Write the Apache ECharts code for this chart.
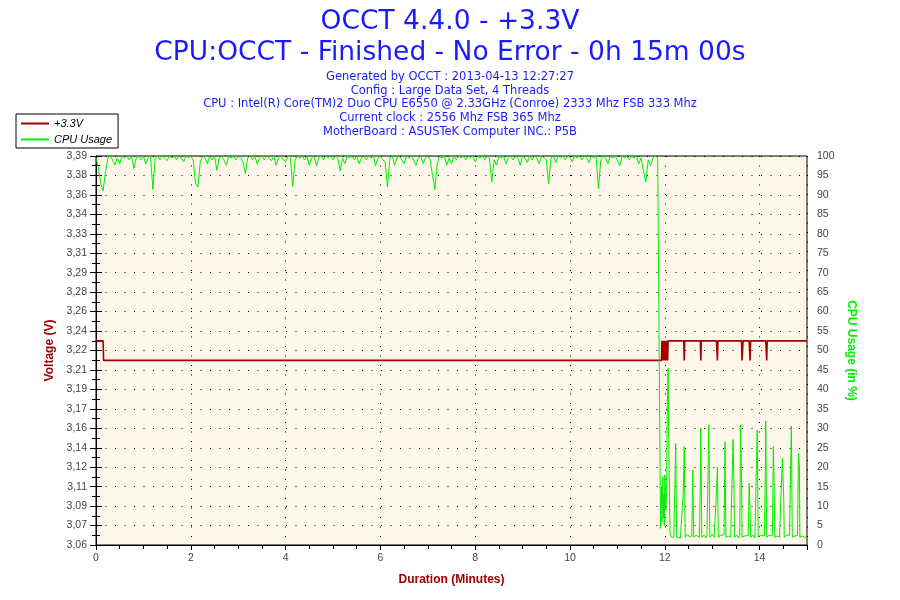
<!DOCTYPE html>
<html>
<head>
<meta charset="utf-8">
<script src="https://cdn.jsdelivr.net/npm/echarts@6/dist/echarts.min.js"></script>
<style>html,body{margin:0;padding:0;background:#fff}#c{width:900px;height:600px}</style>
</head>
<body>
<div id="c"></div>
<script>
// ---- Text ----
const titleLine1 = 'OCCT 4.4.0 - +3.3V';
const titleLine2 = 'CPU:OCCT - Finished - No Error - 0h 15m 00s';
const infoLines = [
  'Generated by OCCT : 2013-04-13 12:27:27',
  'Config : Large Data Set, 4 Threads',
  'CPU : Intel(R) Core(TM)2 Duo CPU E6550 @ 2.33GHz (Conroe) 2333 Mhz FSB 333 Mhz',
  'Current clock : 2556 Mhz FSB 365 Mhz',
  'MotherBoard : ASUSTeK Computer INC.: P5B'
];
const seriesNames = ['+3.3V', 'CPU Usage'];

// ---- Axes ----
const voltMin = 3.0556;
const voltStep = 0.0169;
const voltTickLabels = ['3,06','3,07','3,09','3,11','3,12','3,14','3,16','3,17','3,19','3,21','3,22',
  '3,24','3,26','3,28','3,29','3,31','3,33','3,34','3,36','3,38','3,39'];
const cpuTicks = [0,5,10,15,20,25,30,35,40,45,50,55,60,65,70,75,80,85,90,95,100];
const timeTicks = [0,2,4,6,8,10,12,14];

// ---- CPU usage, 0 - 11.85 min, one reading every 0.05 min ----
const cpuMainStep = 0.05;
const cpuMain = [
  99.5,97,93,91,96,99.5,100,99,97.6,99.5,98,100,99.5,100,99,100,96.8,99.5,100,99,
  100,98,99.5,100,91.4,99.5,100,99,100,99.5,98.8,100,99.5,100,99,100,99.5,98.5,100,99.5,
  100,99,93,92,98.5,100,99.5,98,100,99,100,96.3,99.5,100,99,97.6,100,99.5,100,99,
  100,99.5,98.5,95.5,99.5,100,99,100,98,99.5,100,99,100,99.5,98.8,100,97.6,99.5,100,99,
  98.5,100,99.5,92.2,99,100,99.5,100,99,100,97.6,99.5,100,97.5,99.5,100,99,100,99.5,100,
  99,100,99.5,96.2,99.5,98,100,99.5,100,99,100,98,99.5,100,99,100,99.5,100,97.5,99.5,
  100,99,98.5,92,99.5,100,97.6,99.5,100,99,98,100,99.5,100,99,97.6,99.5,100,98,99.5,
  100,99,95,91.4,98,100,99.5,100,97.6,99.5,98,100,99,100,99.5,100,99,100,99.5,100,
  98.5,100,99.5,100,99,100,99.5,93.3,99,97.6,100,99.5,100,98,99.5,100,99,100,99.5,97.6,
  100,99.5,98.3,100,99,100,99.5,98,100,99.5,99,92.9,99.5,100,98.3,100,99.5,100,99,100,
  99.5,98.5,100,99.5,100,99,100,99.5,98.3,100,99.5,100,91.6,99,100,99.5,98,100,99.5,100,
  99,97.5,100,99.5,100,99,100,99.5,100,98,99.5,96,93.3,99,97.5,99.5,100,99.5
];
// ---- CPU usage after the load stops (minutes, %) ----
const cpuTailTimes = [11.88,11.91,11.92,11.93,11.94,11.95,11.96,11.97,11.98,11.99,12.0,12.02,12.04,12.05,12.07,12.08,12.10,12.11,
  12.14,12.17,12.19,12.21,12.23,12.24,12.25,12.29,12.33,12.37,12.39,12.41,12.42,12.43,12.48,12.52,12.57,12.59,12.60,12.61,
  12.66,12.70,12.73,12.75,12.76,12.77,12.78,12.83,12.87,12.89,12.91,12.93,12.94,12.95,13.0,13.04,13.08,13.11,13.12,13.13,
  13.18,13.22,13.25,13.27,13.28,13.29,13.34,13.39,13.42,13.44,13.46,13.47,13.52,13.56,13.58,13.60,13.62,13.63,13.68,13.72,
  13.76,13.78,13.80,13.81,13.86,13.90,13.93,13.95,13.96,13.97,14.02,14.06,14.10,14.12,14.13,14.14,14.15,14.20,14.24,14.27,
  14.29,14.31,14.32,14.37,14.42,14.46,14.48,14.51,14.52,14.57,14.61,14.63,14.65,14.67,14.68,14.69,14.74,14.78,14.80,14.82,
  14.84,14.85,14.90,14.95,15.0];
const cpuTailValues = [99,4.3,8,15,6,12,17.5,7,13,5,18,9,14,33.4,45.4,30.4,12,3,
  2,2.5,2,14,26.1,14,2,2.5,1.8,2.3,13.7,25.3,13.7,2,2.8,2,2.3,19.3,10,2,
  2.5,3,2,15.8,30,15.8,2,2.5,1.8,2.5,16.7,30.8,16.7,2,2.8,2,11.1,20.1,10,2,
  2.5,2,2.6,26.5,13,2,2.3,2,2.5,27.1,14.6,2,2.5,1.8,2.5,30.8,16,2,2.3,2,
  2.5,15.8,8.6,2,2.5,1.8,2.3,29.5,15.8,2,2.5,2,2.3,16.9,31.9,16,2,2.5,2,2.5,
  25.4,13.7,2,2.3,2,2.5,22.3,11.6,2,2.5,2,2.5,16.3,30.6,16,2,2.3,2,2.5,23.6,
  20.1,2,2.3,2,2.2];

// ---- +3.3V readings (minutes, volts) ----
const voltTimes = [0,0.15,0.16,11.93,11.94,11.95,11.96,11.97,11.98,11.99,12.0,12.01,12.03,12.04,12.06,12.07,
  12.40,12.41,12.42,12.75,12.76,12.77,13.09,13.10,13.11,13.12,13.62,13.63,13.64,13.65,
  13.78,13.79,13.80,13.81,14.13,14.14,14.15,14.16,15.0];
const voltValues = [3.233,3.233,3.216,3.216,3.233,3.216,3.233,3.216,3.233,3.224,3.216,3.233,3.216,3.233,3.216,3.233,
  3.233,3.216,3.233,3.233,3.216,3.233,3.233,3.224,3.216,3.233,3.233,3.216,3.224,3.233,
  3.233,3.224,3.216,3.233,3.233,3.224,3.216,3.233,3.233];

// ---- build series data ----
const cpuData = cpuMain.map((v, i) => [+(i * cpuMainStep).toFixed(2), v])
  .concat(cpuTailTimes.map((t, i) => [t, cpuTailValues[i]]));
const voltData = voltTimes.map((t, i) => [t, voltValues[i]]);

const chart = echarts.init(document.getElementById('c'), null, {renderer: 'canvas'});
const blue = '#1a1aff';
const darkRed = '#a00000';
const green = '#00ee00';
const dotted = {color: '#000', width: 1, type: [1, 8.5]};
const axisFont = 'Liberation Sans';

chart.setOption({
  animation: false,
  backgroundColor: '#ffffff',
  textStyle: {fontFamily: axisFont},
  title: [
    {text: titleLine1, left: 'center', top: 4,
     textStyle: {fontSize: 26.5, fontWeight: 'normal', color: blue, fontFamily: 'DejaVu Sans'}},
    {text: titleLine2, left: 'center', top: 35,
     textStyle: {fontSize: 26.5, fontWeight: 'normal', color: blue, fontFamily: 'DejaVu Sans'}},
    {text: infoLines.join('\n'), left: 'center', top: 65,
     textStyle: {fontSize: 11.5, lineHeight: 13.8, fontWeight: 'normal', color: blue, fontFamily: 'DejaVu Sans', align: 'center'}}
  ],
  legend: {
    orient: 'vertical', left: 16, top: 114,
    data: seriesNames,
    backgroundColor: '#fff', borderColor: '#000', borderWidth: 1,
    padding: [4, 6, 3, 5], itemGap: 5, itemWidth: 28, itemHeight: 10,
    textStyle: {fontSize: 11, fontStyle: 'italic', color: '#000', fontFamily: axisFont},
    icon: 'path://M0,4 L28,4 L28,6 L0,6 Z'
  },
  grid: {left: 96, right: 93, top: 156, bottom: 55, show: true, backgroundColor: '#fdf6e9',
    borderColor: '#000', borderWidth: 1, containLabel: false},
  xAxis: {
    type: 'value', min: 0, max: 15, interval: 2,
    name: 'Duration (Minutes)', nameLocation: 'middle', nameGap: 29,
    nameTextStyle: {color: darkRed, fontWeight: 'bold', fontSize: 12, fontFamily: axisFont},
    axisLine: {show: true, lineStyle: {color: '#000', width: 1}},
    axisTick: {show: true, length: 5, lineStyle: {color: '#000'}},
    minorTick: {show: true, splitNumber: 4, length: 4, lineStyle: {color: '#000'}},
    axisLabel: {color: '#444', fontSize: 10.5, fontFamily: axisFont, margin: 8,
      formatter: v => timeTicks.indexOf(v) >= 0 ? String(v) : ''},
    splitLine: {show: true, lineStyle: dotted}
  },
  yAxis: [
    {
      type: 'value', position: 'left', min: voltMin, max: voltMin + 20 * voltStep, interval: voltStep,
      name: 'Voltage (V)', nameLocation: 'middle', nameGap: 39, nameRotate: 90,
      nameTextStyle: {color: darkRed, fontWeight: 'bold', fontSize: 12, fontFamily: axisFont},
      axisLine: {show: true, onZero: false, lineStyle: {color: '#000', width: 1}},
      axisTick: {show: true, length: 6, lineStyle: {color: '#000'}},
      minorTick: {show: true, splitNumber: 2, length: 4, lineStyle: {color: '#000'}},
      axisLabel: {color: '#444', fontSize: 10.5, fontFamily: axisFont, margin: 9,
        formatter: v => voltTickLabels[Math.round((v - voltMin) / voltStep)] || ''},
      splitLine: {show: false}
    },
    {
      type: 'value', position: 'right', min: 0, max: 100, interval: 5,
      name: 'CPU Usage (in %)', nameLocation: 'middle', nameGap: 34, nameRotate: -90,
      nameTextStyle: {color: green, fontWeight: 'bold', fontSize: 12, fontFamily: axisFont},
      axisLine: {show: true, lineStyle: {color: '#000', width: 1}},
      axisTick: {show: true, length: 6, lineStyle: {color: '#000'}},
      minorTick: {show: true, splitNumber: 2, length: 4, lineStyle: {color: '#000'}},
      axisLabel: {color: '#444', fontSize: 10.5, fontFamily: axisFont, margin: 10,
        formatter: v => cpuTicks.indexOf(v) >= 0 ? String(v) : ''},
      splitLine: {show: true, lineStyle: dotted}
    }
  ],
  series: [
    {name: seriesNames[0], type: 'line', yAxisIndex: 0, data: voltData, showSymbol: false, symbol: 'none',
     lineStyle: {color: darkRed, width: 1.6}, itemStyle: {color: darkRed}, z: 3},
    {name: seriesNames[1], type: 'line', yAxisIndex: 1, data: cpuData, showSymbol: false, symbol: 'none',
     lineStyle: {color: green, width: 1}, itemStyle: {color: green}, z: 4}
  ]
});
</script>
</body>
</html>
